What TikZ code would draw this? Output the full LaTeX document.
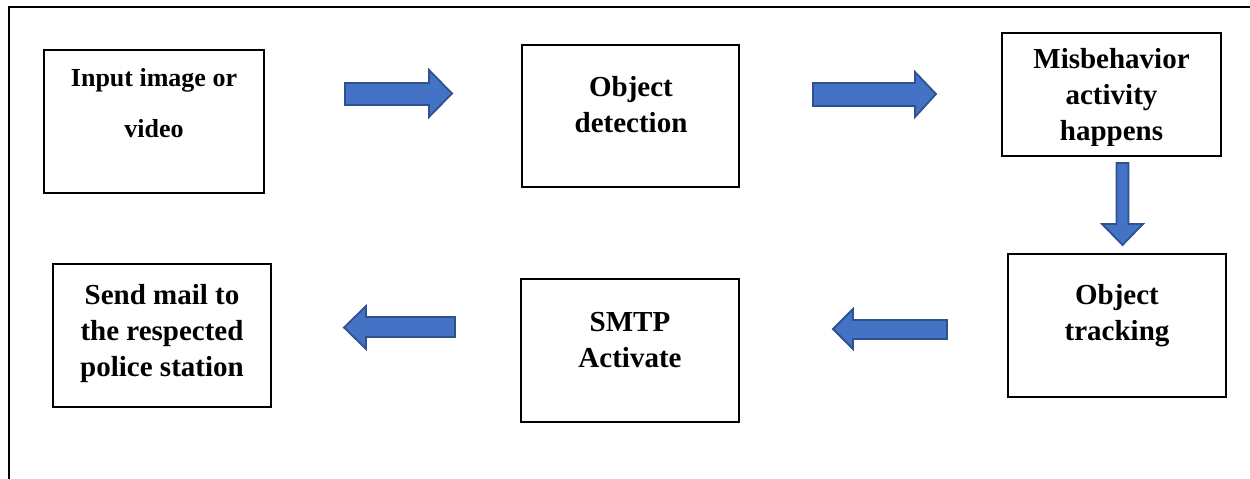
\documentclass[tikz,border=0pt]{standalone}
\usepackage{fontspec}
\setmainfont{Liberation Serif}
\definecolor{arrowfill}{HTML}{4472C4}
\definecolor{arrowline}{HTML}{2F528F}
\begin{document}
\begin{tikzpicture}[x=1pt,y=-1pt,
  box/.style={draw, line width=2.3pt, inner sep=0pt, outer sep=0pt},
  txt/.style={font=\bfseries\fontsize{29}{36}\selectfont, align=center, anchor=base, inner sep=0pt},
  smalltxt/.style={txt, font=\bfseries\fontsize{26}{51}\selectfont},
  barrow/.style={fill=arrowfill, draw=arrowline, line width=1.8pt, line join=miter}]
\useasboundingbox (0,0) rectangle (1250,479);
% outer frame (top and left edges only)
\coordinate (fA) at (1250,7);
\coordinate (fB) at (9,7);
\coordinate (fC) at (9,479);
\draw[line width=1.3pt] (fA) -- (fB) -- (fC);
% boxes
\node[box, minimum width=220, minimum height=143] (b1) at (154,121.5) {};
\node[box, minimum width=217, minimum height=142] (b2) at (630.5,116) {};
\node[box, minimum width=219, minimum height=123] (b3) at (1111.5,94.5) {};
\node[box, minimum width=218, minimum height=143] (b4) at (1117,325.5) {};
\node[box, minimum width=218, minimum height=143] (b5) at (630,350.5) {};
\node[box, minimum width=218, minimum height=143] (b6) at (162,335.5) {};
% texts (anchor = baseline of the last line)
\node[smalltxt] (t1) at (154,137) {Input image or\\video};
\node[txt] (t2) at (631,132) {Object\\detection};
\begin{scope}
\clip (1002,33) rectangle (1221,145);
\node[txt] (t3) at (1111.5,140) {Misbehavior\\activity\\happens};
\end{scope}
\node[txt] (t4) at (1117,340) {Object\\tracking};
\node[txt] (t5) at (630,367) {SMTP\\Activate};
\node[txt] (t6) at (162,376) {Send mail to\\the respected\\police station};
% block arrows
\draw[barrow] (345,83) -- (429,83) -- (429,70) -- (452,93.5) -- (429,117) -- (429,105) -- (345,105) -- cycle;
\draw[barrow] (813,83) -- (915,83) -- (915,72) -- (936,94) -- (915,117) -- (915,106) -- (813,106) -- cycle;
\draw[barrow] (1116.5,163) -- (1128.5,163) -- (1128.5,224) -- (1143,224) -- (1122.5,245) -- (1102,224) -- (1116.5,224) -- cycle;
\draw[barrow] (947,320) -- (853,320) -- (853,309) -- (833,329) -- (853,349) -- (853,339) -- (947,339) -- cycle;
\draw[barrow] (455,317) -- (366,317) -- (366,306) -- (344,327.5) -- (366,349) -- (366,337) -- (455,337) -- cycle;
\end{tikzpicture}
\end{document}
